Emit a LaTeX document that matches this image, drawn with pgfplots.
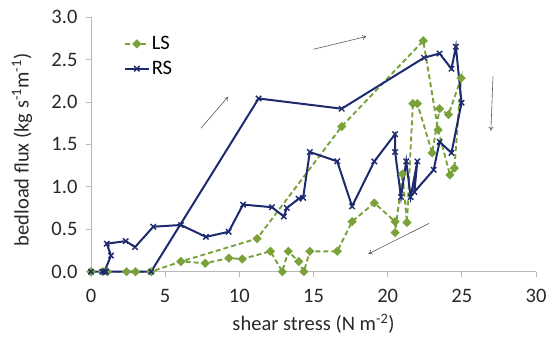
\documentclass[border=0pt]{standalone}
\usepackage{pgfplots}
\pgfplotsset{compat=1.18}
\usepackage{fontspec}
\setmainfont{Carlito}
\usetikzlibrary{arrows.meta}
\definecolor{lsgreen}{RGB}{122,162,58}
\definecolor{rsblue}{RGB}{30,42,110}
\definecolor{axgray}{RGB}{185,185,185}
\definecolor{txt}{RGB}{40,40,40}
\definecolor{arrgray}{RGB}{90,90,90}
\begin{document}
\begin{tikzpicture}
\begin{axis}[
  scale only axis, width=445bp, height=254.7bp,
  xmin=0, xmax=30, ymin=0, ymax=3.0,
  axis lines*=left,
  axis line style={axgray, line width=0.8bp},
  every tick/.style={axgray, line width=0.8bp},
  tick align=outside, major tick length=5bp,
  xtick={0,5,...,30}, ytick={0,0.5,...,3.0},
  font=\fontsize{20.6}{24}\selectfont,
  /pgf/number format/assume math mode=true,
  yticklabel style={/pgf/number format/fixed, /pgf/number format/fixed zerofill, /pgf/number format/precision=1, xshift=-5bp, text=txt},
  xticklabel style={yshift=-9bp, text=txt},
  xlabel={shear stress (N m\textsuperscript{-2})},
  ylabel={bedload flux (kg s\textsuperscript{-1}m\textsuperscript{-1})},
  xlabel style={at={(rel axis cs:0.5,0)}, anchor=base, yshift=-59bp, text=txt},
  ylabel style={at={(axis description cs:-0.155,0.478)}, anchor=center, text=txt},
  legend style={at={(axis cs:2.0,2.82)}, anchor=north west, draw=none, fill=none, row sep=6bp, font=\fontsize{20.6}{24}\selectfont},
  legend cell align=left,
  legend image code/.code={\draw[#1, mark repeat=2, mark phase=2] plot coordinates {(0bp,0bp) (12bp,0bp) (24bp,0bp)};},
  clip=false,
]
\addplot[lsgreen, line width=1.9bp, dash pattern=on 5bp off 3bp, mark=square*, mark size=2.3bp, mark options={solid, rotate=45, fill=lsgreen, draw=lsgreen}] coordinates {
(0,0) (0.8,0) (1.1,0) (2.4,0) (3.0,0) (4.05,0) (6.06,0.12) (11.2,0.39) (16.9,1.71) (22.4,2.72)
(23.4,1.67) (24.2,1.14) (24.5,1.22) (24.95,2.28) (24.1,1.85) (23.5,1.92) (23.0,1.40) (22.0,1.98) (21.7,1.98)
(21.3,0.58) (21.0,1.15) (20.5,0.46) (20.5,0.59) (19.1,0.81) (17.6,0.59) (16.6,0.24) (14.75,0.24) (14.35,0)
(14.0,0.12) (13.3,0.24) (12.9,0) (12.1,0.24) (10.2,0.15) (9.3,0.16) (7.7,0.10) (6.06,0.12)
};
\addlegendentry{LS}
\addplot[rsblue, line width=2bp, mark=x, mark size=3.8bp, mark options={line width=1.4bp}] coordinates {
(0,0) (0.76,0) (1.0,0) (4.05,0) (11.3,2.04) (16.9,1.92) (22.45,2.52) (23.5,2.57) (24.3,2.39) (24.6,2.65)
(24.98,1.99) (24.3,1.40) (23.5,1.53) (23.1,1.20) (21.8,0.94) (22.0,1.30) (21.55,0.88) (21.25,1.30) (20.9,0.88)
(20.5,1.41) (20.5,1.62) (19.1,1.30) (17.6,0.77) (16.6,1.30) (14.75,1.41) (14.3,0.87) (14.0,0.86) (13.2,0.75)
(13.0,0.65) (12.2,0.76) (10.25,0.79) (9.28,0.47) (7.75,0.41) (6.06,0.55) (4.2,0.53) (2.97,0.29) (2.34,0.36)
(1.06,0.33) (1.35,0.19) (0.9,0)
};
\addlegendentry{RS}
\draw[arrgray, line width=0.6bp, -{To[length=4bp,width=5bp]}] (axis cs:7.41,1.69) -- (axis cs:9.24,2.06);
\draw[arrgray, line width=0.6bp, -{To[length=4bp,width=5bp]}] (axis cs:15.0,2.62) -- (axis cs:18.56,2.77);
\draw[arrgray, line width=0.6bp, -{To[length=4bp,width=5bp]}] (axis cs:27.1,2.30) -- (axis cs:26.96,1.66);
\draw[arrgray, line width=0.6bp, -{To[length=4bp,width=5bp]}] (axis cs:22.8,0.57) -- (axis cs:18.7,0.21);
\end{axis}
\pgfresetboundingbox
\useasboundingbox (-91bp,-65.3bp) rectangle (467bp,271.7bp);
\end{tikzpicture}
\end{document}
